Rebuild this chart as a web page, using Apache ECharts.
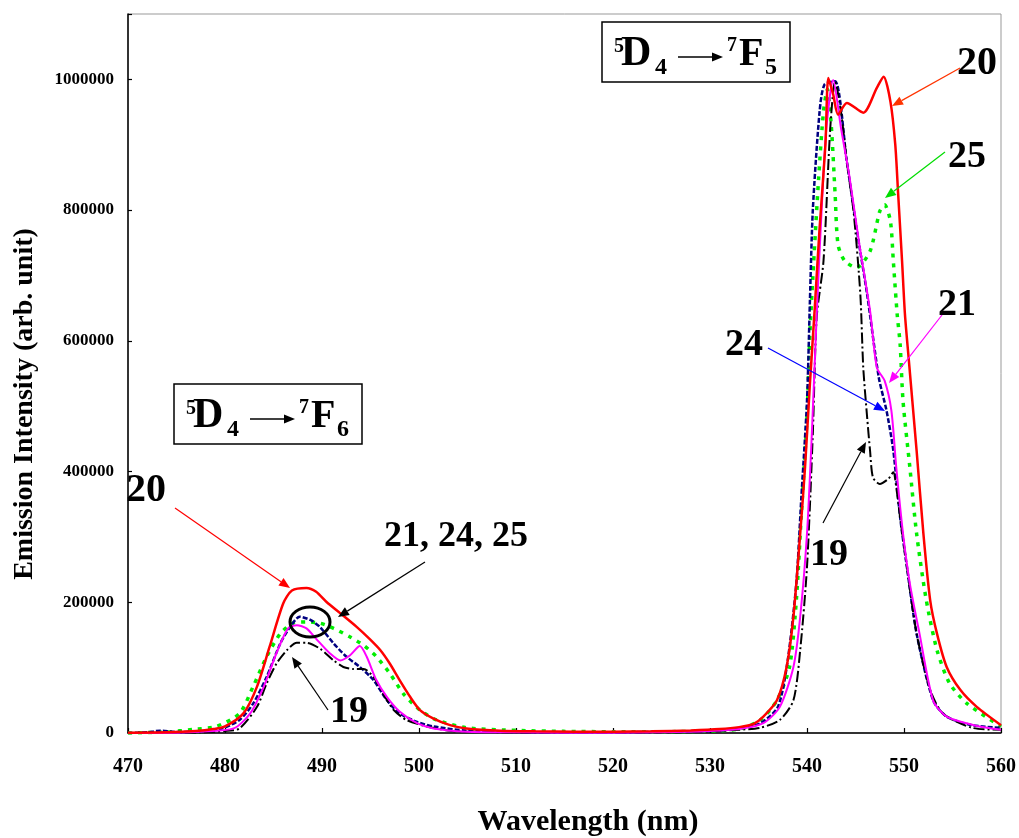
<!DOCTYPE html>
<html>
<head>
<meta charset="utf-8">
<script src="https://cdn.jsdelivr.net/npm/echarts@6/dist/echarts.min.js"></script>
<style>
html,body{margin:0;padding:0;background:#fff;}
#chart{width:1019px;height:838px;}
</style>
</head>
<body>
<div id="chart"></div>
<script>
// ---- data (wavelength nm / emission intensity, arb. unit) ----
var xTicks = [470, 480, 490, 500, 510, 520, 530, 540, 550, 560];
var yTicks = [0, 200000, 400000, 600000, 800000, 1000000];

var x19 = [470, 475, 477.4, 480, 481.5, 483.3, 484.3, 485.3, 486.4, 487.4, 488.4, 489.8, 491.2, 492.2, 493.2, 494.3, 495.3, 496.3, 497.4, 498.7, 500.8, 503.2, 505, 510, 515, 520, 525, 530, 533, 535.2, 537.2, 538.6, 539.3, 540.0, 540.6, 541.0, 541.7, 542.4, 542.9, 543.5, 544.1, 544.8, 545.5, 545.8, 546.2, 546.5, 546.8, 547.5, 548.4, 548.9, 549.2, 549.6, 550.3, 551.3, 552.7, 554.0, 557, 560];
var y19 = [0, 500, 1000, 3000, 7000, 40000, 76000, 106000, 127000, 138000, 138000, 129000, 111000, 101000, 98000, 98000, 86000, 60000, 35000, 20000, 10000, 3500, 2000, 1000, 500, 500, 1000, 2500, 5000, 8000, 20000, 50000, 127000, 254000, 458000, 636000, 722000, 926000, 997000, 951000, 875000, 798000, 671000, 559000, 483000, 432000, 391000, 381000, 389000, 399000, 376000, 330000, 254000, 152000, 66000, 30000, 8000, 5000];

var x20 = [470, 474, 477, 478.8, 480, 481.9, 483.3, 484.6, 486.0, 486.9, 488.4, 489.4, 490.5, 491.9, 493.6, 494.9, 496.0, 497.0, 498.0, 499.1, 500.1, 501.5, 503.2, 504.9, 508.4, 512, 516, 520, 524, 528, 531, 533, 534.5, 535.5, 536.9, 537.9, 538.6, 539.3, 539.8, 540.3, 540.8, 541.3, 541.9, 542.2, 542.7, 543.2, 544.1, 545.8, 547.2, 547.9, 548.6, 549.1, 549.4, 549.8, 550.1, 550.5, 551.3, 552.0, 552.7, 553.4, 554.4, 555.8, 557.5, 560];
var y20 = [500, 1000, 3000, 6000, 10000, 30000, 71000, 132000, 198000, 218000, 222000, 216000, 200000, 183000, 162000, 144000, 127000, 106000, 81000, 55000, 35000, 22000, 12000, 7000, 3500, 2500, 2000, 2000, 2500, 4000, 6000, 9000, 14000, 25000, 50000, 101000, 178000, 305000, 407000, 534000, 650000, 773000, 900000, 1002000, 977000, 946000, 964000, 949000, 987000, 1004000, 966000, 900000, 824000, 722000, 640000, 570000, 432000, 305000, 203000, 152000, 101000, 66000, 40000, 12000];

var x21 = [470, 475, 477.4, 480.9, 482.6, 484.0, 485.3, 486.5, 487.4, 488.4, 489.4, 490.8, 491.9, 492.9, 493.9, 494.6, 495.6, 496.7, 498.0, 499.8, 501.5, 504.9, 510, 515, 520, 525, 530, 533, 535.5, 537.2, 538.6, 539.3, 540.0, 540.5, 541.0, 541.5, 542.0, 542.7, 543.5, 544.4, 545.4, 546.5, 547.2, 548.0, 548.7, 549.2, 549.9, 550.6, 551.6, 553.0, 554.4, 557.2, 560];
var y21 = [0, 500, 2000, 7000, 30000, 71000, 122000, 160000, 165000, 160000, 144000, 122000, 111000, 119000, 133000, 117000, 81000, 55000, 33000, 15000, 7000, 2000, 1000, 500, 500, 1000, 3000, 6000, 15000, 40000, 101000, 178000, 305000, 458000, 640000, 798000, 926000, 999000, 926000, 849000, 747000, 646000, 559000, 539000, 493000, 407000, 305000, 229000, 152000, 50000, 25000, 12000, 5000];

var x24 = [470, 472, 473.3, 475, 477.4, 479.5, 481.5, 482.9, 484.3, 485.7, 486.7, 487.7, 488.8, 489.8, 491.2, 492.5, 493.9, 495.3, 496.7, 498.0, 499.8, 501.5, 504.9, 510, 515, 520, 525, 530, 533, 535.2, 537.0, 538.0, 538.9, 539.4, 540.0, 540.3, 540.6, 541.3, 541.8, 542.9, 544.1, 545.1, 546.2, 547.4, 548.2, 548.9, 549.6, 550.3, 551.3, 553.0, 554.4, 557, 560];
var y24 = [0, 1000, 3500, 1500, 2500, 6000, 20000, 45000, 86000, 137000, 162000, 178000, 173000, 162000, 137000, 117000, 101000, 81000, 50000, 30000, 17000, 10000, 3500, 1500, 1000, 1000, 2000, 3000, 7000, 15000, 40000, 110000, 229000, 356000, 508000, 661000, 800000, 951000, 992000, 997000, 875000, 773000, 671000, 544000, 493000, 432000, 330000, 254000, 152000, 50000, 25000, 12000, 8000];

var x25 = [470, 474, 476.7, 479.1, 481.5, 482.9, 484.3, 485.7, 487.0, 488.4, 489.8, 491.2, 492.9, 494.3, 495.6, 497.0, 498.4, 500.1, 501.8, 504.9, 510.1, 515, 520, 525, 530, 533, 535.2, 536.9, 538.2, 538.9, 539.4, 540.0, 540.3, 540.6, 541.2, 541.7, 542.1, 542.5, 542.9, 543.2, 543.9, 545.1, 546.5, 547.5, 548.0, 548.6, 548.9, 549.3, 549.6, 549.9, 550.6, 551.3, 552.3, 553.4, 554.7, 556.5, 560];
var y25 = [0, 1500, 5500, 10000, 30000, 71000, 117000, 152000, 168000, 170000, 168000, 160000, 147000, 134000, 117000, 91000, 60000, 35000, 20000, 8000, 4000, 2500, 2000, 2000, 3000, 6000, 20000, 50000, 101000, 203000, 330000, 483000, 611000, 697000, 849000, 951000, 985000, 930000, 824000, 747000, 722000, 712000, 737000, 798000, 808000, 783000, 722000, 640000, 595000, 508000, 407000, 305000, 203000, 127000, 76000, 45000, 10000];

function zip(xs, ys) { return xs.map(function (x, i) { return [x, ys[i]]; }); }

var SERIF = "'Liberation Serif', 'Times New Roman', serif";

var chart = echarts.init(document.getElementById('chart'), null, { renderer: 'canvas' });

function arrow(x1, y1, x2, y2, color, lw) {
  var a = Math.atan2(y2 - y1, x2 - x1);
  var L = 11, W = 4.5;
  var bx = x2 - L * Math.cos(a), by = y2 - L * Math.sin(a);
  return [
    { type: 'line', z: 70, shape: { x1: x1, y1: y1, x2: bx, y2: by }, style: { stroke: color, lineWidth: lw || 1.2 } },
    { type: 'polygon', z: 70, shape: { points: [[x2, y2], [bx + W * Math.sin(a), by - W * Math.cos(a)], [bx - W * Math.sin(a), by + W * Math.cos(a)]] }, style: { fill: color } }
  ];
}

function label(txt, cx, cy, size) {
  return { type: 'text', z: 60, x: cx, y: cy, style: { text: txt, fontFamily: SERIF, fontWeight: 'bold', fontSize: size, fill: '#000', align: 'center', verticalAlign: 'middle' } };
}

function tText(txt, lx, cy, size) {
  return { type: 'text', z: 60, x: lx, y: cy, style: { text: txt, fontFamily: SERIF, fontWeight: 'bold', fontSize: size, fill: '#000', align: 'left', verticalAlign: 'middle' } };
}

function transitionBox(bx, by, subF) {
  var els = [
    { type: 'rect', z: 40, shape: { x: bx, y: by, width: 188, height: 60 }, style: { fill: '#fff', stroke: '#000', lineWidth: 1.5 } },
    tText('5', bx + 12, by + 24.5, 20),
    tText('D', bx + 19, by + 32.5, 42),
    tText('4', bx + 53, by + 46, 24),
    tText('7', bx + 125, by + 24, 20),
    tText('F', bx + 137, by + 32.5, 40),
    tText(subF, bx + 163, by + 46, 24)
  ];
  return els.concat(arrow(bx + 76, by + 35, bx + 121, by + 35, '#000', 1.5));
}

var graphics = []
  .concat(transitionBox(174, 384, '6'))
  .concat(transitionBox(602, 22, '5'))
  .concat([
    label('20', 146, 491, 40),
    label('21, 24, 25', 456, 537, 36),
    label('19', 349, 712, 38),
    label('20', 977, 64, 40),
    label('25', 967, 157, 38),
    label('21', 957, 305, 38),
    label('24', 744, 345, 38),
    label('19', 829, 555, 38),
    { type: 'ellipse', z: 58, shape: { cx: 310, cy: 622, rx: 20, ry: 15 }, style: { fill: null, stroke: '#000', lineWidth: 3 } },
    { type: 'text', z: 60, x: 588, y: 822, style: { text: 'Wavelength (nm)', fontFamily: SERIF, fontWeight: 'bold', fontSize: 30, fill: '#000', align: 'center', verticalAlign: 'middle' } },
    { type: 'text', z: 60, x: 25, y: 404, rotation: Math.PI / 2, style: { text: 'Emission Intensity (arb. unit)', fontFamily: SERIF, fontWeight: 'bold', fontSize: 28, fill: '#000', align: 'center', verticalAlign: 'middle' } }
  ])
  .concat(arrow(175, 508, 290, 588, '#ff0000', 1.2))
  .concat(arrow(425, 562, 338, 617, '#000', 1.2))
  .concat(arrow(328, 710, 292, 657, '#000', 1.2))
  .concat(arrow(960, 68, 892, 106, '#ff3300', 1.2))
  .concat(arrow(945, 152, 885, 198, '#00dd00', 1.2))
  .concat(arrow(942, 315, 889, 383, '#ff00ff', 1.2))
  .concat(arrow(768, 348, 885, 411, '#0000ff', 1.2))
  .concat(arrow(823, 523, 866, 442, '#000', 1.2));

var option = {
  animation: false,
  backgroundColor: '#fff',
  grid: { left: 128, right: 18, top: 14, bottom: 105, show: true, borderColor: '#999', borderWidth: 1 },
  xAxis: {
    type: 'value', min: xTicks[0], max: xTicks[xTicks.length - 1], interval: 10,
    axisLine: { show: true, lineStyle: { color: '#000', width: 1.5 } },
    axisTick: { show: true, inside: true, length: 5, lineStyle: { color: '#000', width: 1.2 } },
    axisLabel: { margin: 24, fontFamily: SERIF, fontWeight: 'bold', fontSize: 20, color: '#000' },
    splitLine: { show: false }
  },
  yAxis: {
    type: 'value', min: 0, max: 1100000, interval: 200000,
    axisLine: { show: true, lineStyle: { color: '#000', width: 1.5 } },
    axisTick: { show: true, inside: true, length: 4, lineStyle: { color: '#000', width: 1.2 } },
    axisLabel: {
      margin: 14, fontFamily: SERIF, fontWeight: 'bold', fontSize: 17, color: '#000',
      formatter: function (v) { return yTicks.indexOf(v) >= 0 ? String(v) : ''; }
    },
    splitLine: { show: false }
  },
  series: [
    { name: '25', type: 'line', data: zip(x25, y25), showSymbol: false, smooth: 0.25, lineStyle: { color: '#00ee00', width: 3.5, type: [4, 6] }, z: 2 },
    { name: '24', type: 'line', data: zip(x24, y24), showSymbol: false, smooth: 0.25, lineStyle: { color: '#000080', width: 2.5, type: [5, 2] }, z: 3 },
    { name: '19', type: 'line', data: zip(x19, y19), showSymbol: false, smooth: 0.25, lineStyle: { color: '#000', width: 2, type: [11, 3, 2, 3] }, z: 4 },
    { name: '21', type: 'line', data: zip(x21, y21), showSymbol: false, smooth: 0.25, lineStyle: { color: '#ff00ff', width: 2 }, z: 5 },
    { name: '20', type: 'line', data: zip(x20, y20), showSymbol: false, smooth: 0.25, lineStyle: { color: '#ff0000', width: 2.5 }, z: 6 }
  ],
  graphic: { elements: graphics }
};
chart.setOption(option);
</script>
</body>
</html>
